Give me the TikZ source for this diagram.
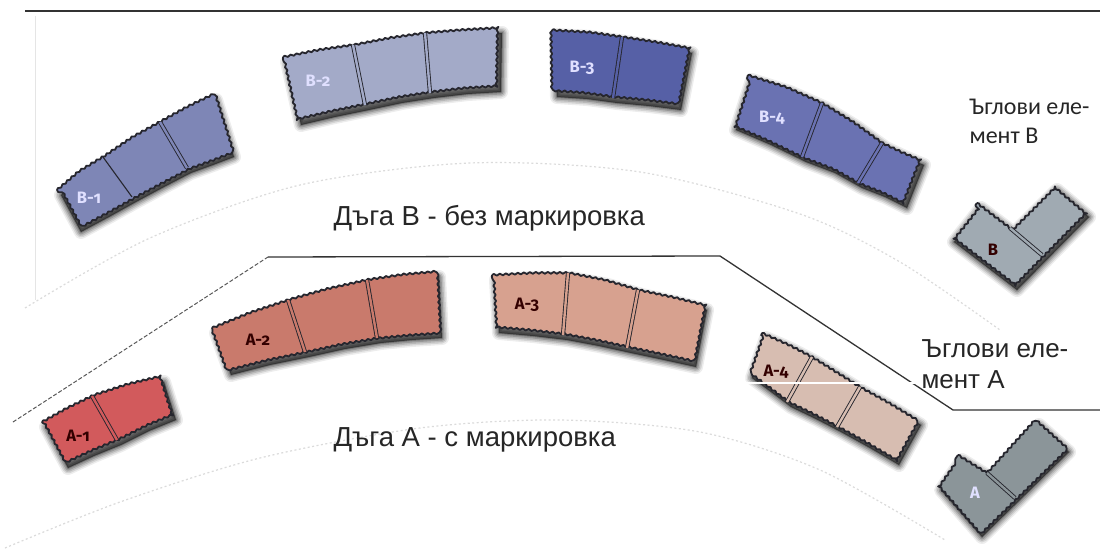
\documentclass[tikz,border=0pt]{standalone}
\usepackage{fontspec}
\setmainfont{Liberation Sans}
\newfontfamily\lblfont[Numbers=OldStyle]{Fira Sans}
\newfontfamily\calfont{Carlito}
\usetikzlibrary{decorations.pathmorphing}

\definecolor{edge}{HTML}{26262E}
\definecolor{bA}{HTML}{7E86B6}
\definecolor{bB}{HTML}{A3AAC8}
\definecolor{bC}{HTML}{5660A6}
\definecolor{bD}{HTML}{6A72B2}
\definecolor{bK}{HTML}{A0AAB2}
\definecolor{aA}{HTML}{D25A5C}
\definecolor{aB}{HTML}{C97A6C}
\definecolor{aC}{HTML}{D7A18F}
\definecolor{aD}{HTML}{D7BDB1}
\definecolor{aK}{HTML}{8B9599}
\definecolor{rule}{HTML}{333333}

% a paver strip: soft drop shadow, then the filled tile with a bumpy outline
\newcommand\paver[2]{%
  \foreach \w/\o in {14/.07,11/.10,8/.13,5/.17,2/.22}{%
    \path[fill=black, draw=black, line width=\w pt, opacity=\o,
          line join=round, shift={(4,5)}] #2;
  }%
  \path[tileedge, fill=#1] #2;
}

\tikzset{
  tileedge/.style={draw=edge, line width=1.8pt, line join=round,
    decorate, decoration={snake, amplitude=.9pt, segment length=6pt}},
  joint/.style={draw=edge, line width=.9pt, double=#1, double distance=2.4pt},
  singlejoint/.style={draw=edge, line width=1.1pt},
  lbllight/.style={text=white!88!blue, font=\lblfont\bfseries\fontsize{16.5}{16.5}\selectfont},
  lbldark/.style={text=black!80!red, font=\lblfont\bfseries\fontsize{16.5}{16.5}\selectfont},
  guide/.style={draw=black!14, line width=1.2pt, dash pattern=on 2pt off 2.5pt},
  caption/.style={anchor=west, text=black!85, font=\fontsize{27.5}{32}\selectfont},
}

\begin{document}
\begin{tikzpicture}[x=1pt, y=-1pt]
\useasboundingbox (0,0) rectangle (1100,553);
\fill[white] (0,0) rectangle (1100,553);

% faint layout guides
\draw[black!10, line width=.8pt] (35,16) -- (35,300);
\draw[guide] plot[smooth] coordinates {(25,308) (150,238) (300,185) (470,163) (640,172) (800,214) (900,262) (1000,330)};
\draw[guide] plot[smooth] coordinates {(5,548) (120,502) (260,458) (420,428) (560,420) (700,432) (820,470) (945,540)};

% frame lines
\coordinate (t0) at (25,11);
\coordinate (t1) at (1100,11);
\draw[rule, line width=2pt] (t0) -- (t1);
\coordinate (s0) at (13,422);
\coordinate (s1) at (268,257);
\coordinate (s2) at (720,256);
\coordinate (s3) at (953,410);
\coordinate (s4) at (1100,410);
\draw[black!65, line width=1pt, dash pattern=on 4pt off 2pt] (s0) -- (s1);
\draw[rule, line width=1.3pt, line join=round] (s1) -- (s2) -- (s3) -- (s4);

% ---- arc B ----
\paver{bA}{(57,190) -- (78,172) -- (103,157) -- (131,138) -- (160,122) -- (187,107) -- (212,95) -- (230,152) -- (209,160) -- (187,168) -- (160,182) -- (132,197) -- (105,212) -- (77,227) -- cycle}
\draw[singlejoint] (103,157) -- (132,197);
\draw[joint=bA] (160,122) -- (187,168);

\paver{bB}{(283,57) -- (318,50) -- (353,45) -- (389,38) -- (425,33) -- (462,30) -- (498,28) -- (497,87) -- (464,89) -- (430,93) -- (398,98) -- (365,105) -- (331,112) -- (297,120) -- cycle}
\draw[joint=bB] (353,45) -- (365,105);
\draw[joint=bB] (425,33) -- (430,93);

\paver{bC}{(552,30) -- (587,32) -- (622,37) -- (655,42) -- (688,48) -- (677,105) -- (645,101) -- (613,98) -- (583,94) -- (553,92) -- cycle}
\draw[joint=bC] (622,37) -- (613,98);

\paver{bD}{(748,75) -- (786,87) -- (822,103) -- (853,122) -- (882,143) -- (901,152) -- (920,160) -- (903,203) -- (881,192) -- (858,183) -- (831,168) -- (802,157) -- (767,140) -- (732,125) -- cycle}
\draw[joint=bD] (822,103) -- (802,157);
\draw[joint=bD] (882,143) -- (858,183);

\paver{bK}{(977,203) -- (1010,228) -- (1053,185) -- (1085,212) -- (1013,285) -- (950,237) -- cycle}
\draw[joint=bK] (1010,228) -- (1042,255);

% ---- arc A ----
\paver{aA}{(42,422) -- (67,408) -- (92,396) -- (126,385) -- (160,377) -- (172,415) -- (145,426) -- (117,440) -- (90,451) -- (64,463) -- cycle}
\draw[joint=aA] (92,396) -- (117,440);

\paver{aB}{(212,328) -- (249,313) -- (288,300) -- (327,289) -- (367,280) -- (401,275) -- (435,272) -- (438,333) -- (408,335) -- (377,338) -- (341,344) -- (305,352) -- (266,360) -- (227,370) -- cycle}
\draw[joint=aB] (288,300) -- (305,352);
\draw[joint=aB] (367,280) -- (377,338);

\paver{aC}{(492,275) -- (530,273) -- (568,273) -- (604,280) -- (638,290) -- (671,297) -- (703,305) -- (692,362) -- (660,355) -- (627,348) -- (595,341) -- (563,335) -- (529,331) -- (495,328) -- cycle}
\draw[joint=aC] (568,273) -- (563,335);
\draw[joint=aC] (638,290) -- (627,348);

\paver{aD}{(762,333) -- (787,344) -- (812,357) -- (836,372) -- (860,387) -- (889,403) -- (917,420) -- (895,460) -- (866,443) -- (837,427) -- (812,414) -- (787,402) -- (767,387) -- (748,373) -- cycle}
\draw[joint=aD] (812,357) -- (787,402);
\draw[joint=aD] (860,387) -- (837,427);

\paver{aK}{(958,455) -- (987,473) -- (1035,420) -- (1065,447) -- (978,532) -- (937,485) -- cycle}
\draw[joint=aK] (987,473) -- (1015,498);

% thin white rule crossing the last A strip
\coordinate (w0) at (720,383);
\coordinate (w1) at (925,383);
\draw[white, line width=1.5pt] (w0) -- (w1);

% strip labels
\node[lbllight] (lb1) at (89,198) {B-1};
\node[lbllight] (lb2) at (318,81) {B-2};
\node[lbllight] (lb3) at (582,68) {B-3};
\node[lbllight] (lb4) at (772,118) {B-4};
\node[lbldark] (lbk) at (993,250) {B};
\node[lbldark] (la1) at (78,436) {A-1};
\node[lbldark] (la2) at (258,340) {A-2};
\node[lbldark] (la3) at (527,305) {A-3};
\node[lbldark] (la4) at (776,372) {A-4};
\node[lbllight] (lak) at (975,493) {A};

% captions
\node[caption] (capB) at (330,218) {Дъга B - без маркировка};
\node[caption] (capA) at (330,440) {Дъга А - с маркировка};
\node[anchor=west, align=left, text=black!85, font=\calfont\fontsize{24}{29}\selectfont] (cornB) at (966,121) {Ъглови еле-\\мент B};
\node[anchor=west, align=left, text=black!85, font=\fontsize{26}{31}\selectfont] (cornA) at (918,364) {Ъглови еле-\\мент А};
\end{tikzpicture}
\end{document}
